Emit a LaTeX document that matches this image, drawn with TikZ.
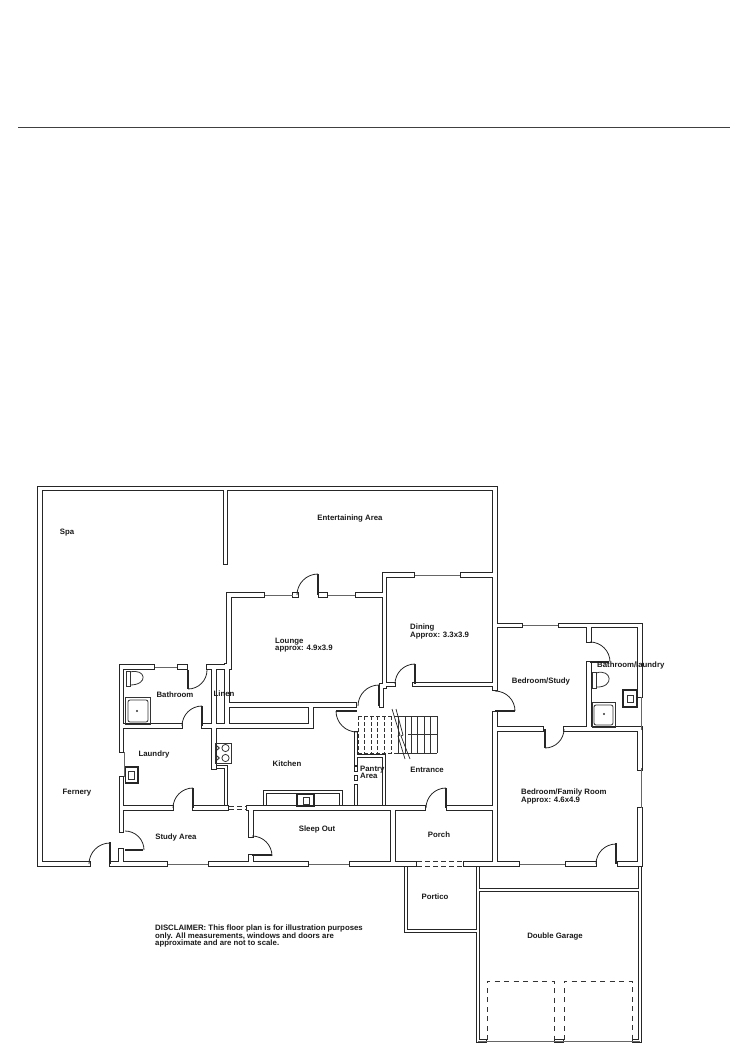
\documentclass[tikz,border=0pt]{standalone}
\usepackage{fontspec}
\setmainfont{Liberation Sans}
\newcommand{\wallpath}{
    (88,864) -- (40,864) -- (40,488.5) -- (495,488.5) -- (495,688)
    (495,713.5) -- (495,864)
    (225.5,488.5) -- (225.5,562)
    (262.5,595) -- (229,595) -- (229,666) -- (227,666) -- (227,726)
    (295,595) -- (296,595)
    (321,595) -- (325,595)
    (358,595) -- (384.5,595) -- (384.5,575) -- (412.5,575)
    (462.5,575) -- (495,575)
    (384.5,595) -- (384.5,686) -- (381.5,686) -- (381.5,705)
    (384.5,684.5) -- (393,684.5)
    (415,684.5) -- (495,684.5)
    (229,705) -- (354,705)
    (152,667) -- (121.5,667) -- (121.5,750)
    (121.5,779) -- (121.5,830)
    (180,667) -- (185,667)
    (209,667) -- (229,667)
    (121.5,726) -- (180,726)
    (204,726) -- (311,726) -- (311,707)
    (214,667) -- (214,767)
    (121.5,808) -- (171,808)
    (195,808) -- (226,808)
    (249,808) -- (423.5,808)
    (448.5,808) -- (495,808)
    (251,808) -- (251,835)
    (251,857) -- (251,864)
    (121,851) -- (121,864)
    (112,864) -- (165.5,864)
    (210.5,864) -- (306.5,864)
    (351.5,864) -- (414.5,864)
    (465.5,864) -- (517.5,864)
    (567.5,864) -- (594.5,864)
    (619.5,864) -- (640,864) -- (640,809.5)
    (640,768) -- (640,731.5)
    (393,808) -- (393,864)
    (495,625.5) -- (520.5,625.5)
    (560.5,625.5) -- (640,625.5) -- (640,695)
    (589,625.5) -- (589,640)
    (589,664) -- (589,729)
    (495,729) -- (541,729)
    (566,729) -- (640,729)
}
\newcommand{\thinpath}{
    (406,866) -- (406,931) -- (478,931)
    (478,866) -- (478,1041)
    (478,890) -- (640,890)
    (640,866) -- (640,1041)
    (479,1041) -- (485,1041)
    (556,1041) -- (562,1041)
    (634,1041) -- (639,1041)
    (226,767) -- (226,806)
    (214,767) -- (226,767)
    (356,733) -- (356,764)
    (356,768) -- (356,770)
    (356,777) -- (356,779)
    (356,786) -- (356,806)
    (356,756) -- (384,756) -- (384,806)
    (265,806) -- (265,792) -- (341,792) -- (341,806)
}
\newcommand{\doorswing}[5]{\draw [swing] (#1,#2) ++(#3:#4) arc (#3:#5:#4);}
\newcommand{\roomfont}{\fontsize{7.8}{7.2}\selectfont\bfseries\setlength{\lineskiplimit}{-5pt}}
\tikzset{
    wallout/.style={line width=5.5pt, black!85, line cap=rect, line join=miter},
    wallin/.style={line width=3.3pt, white, line cap=rect, line join=miter},
    thinout/.style={line width=4pt, black!85, line cap=rect, line join=miter},
    thinin/.style={line width=2pt, white, line cap=rect, line join=miter},
    pane/.style={line width=0.9pt, black!60},
    leaf/.style={line width=1.5pt, black!85},
    swing/.style={line width=0.8pt, black!85},
    fixture/.style={line width=0.8pt, black!80},
    opening/.style={line width=1pt, black!80, dash pattern=on 5pt off 3pt},
    bay/.style={line width=0.9pt, black!80, dash pattern=on 5pt off 4.5pt},
    room/.style={font=\roomfont, inner sep=0pt, align=left, black!90}
}
\begin{document}
\begin{tikzpicture}[x=1pt, y=-1pt]
    \useasboundingbox (0,0) rectangle (750,1059);
    \draw [line width=1pt, black!75] (18,127.5) -- (730,127.5);

    \draw [thinout] \thinpath;
    \draw [thinin] \thinpath;
    \draw [wallout] \wallpath;
    \draw [wallin] \wallpath;

    \draw [pane] (265,595) -- (293,595);
    \draw [pane] (328,595) -- (355,595);
    \draw [pane] (415,575) -- (460,575);
    \draw [pane] (154.5,667) -- (177,667);
    \draw [pane] (124,752) -- (124,777);
    \draw [pane] (168,864) -- (208,864);
    \draw [pane] (309,864) -- (349,864);
    \draw [pane] (520,864) -- (565,864);
    \draw [pane] (523,625.5) -- (558,625.5);
    \draw [pane] (641.5,697) -- (641.5,730);
    \draw [pane] (641.5,768) -- (641.5,808);
    \draw [pane] (478,1041) -- (640,1041);

    \draw [leaf] (318,574) -- (318,595);
    \draw [leaf] (379,685) -- (379,706);
    \draw [leaf] (415,664) -- (415,684);
    \draw [leaf] (188,670) -- (188,689);
    \draw [leaf] (202,706) -- (202,726);
    \draw [leaf] (193,788) -- (193,808);
    \draw [leaf] (446,788) -- (446,808);
    \draw [leaf] (110,842) -- (110,864);
    \draw [leaf] (125,850) -- (143,850);
    \draw [leaf] (252,855) -- (272,855);
    \draw [leaf] (336,711) -- (357,711);
    \draw [leaf] (495,711) -- (515,711);
    \draw [leaf] (545,729) -- (545,748);
    \draw [leaf] (590,662) -- (609,662);
    \draw [leaf] (616,843) -- (616,864);

    \doorswing{110}{864}{270}{21}{180}
    \doorswing{125}{850}{270}{19}{360}
    \doorswing{193}{808}{270}{20}{180}
    \doorswing{202}{726}{270}{20}{180}
    \doorswing{188}{670}{90}{19}{0}
    \doorswing{318}{595}{270}{21}{180}
    \doorswing{379}{706}{270}{21}{180}
    \doorswing{415}{684}{270}{20}{180}
    \doorswing{357}{711}{180}{21}{90}
    \doorswing{446}{808}{270}{20}{180}
    \doorswing{252}{856}{270}{20}{360}
    \doorswing{495}{711}{270}{20}{360}
    \doorswing{545}{729}{90}{19}{0}
    \doorswing{590}{662}{270}{20}{360}
    \doorswing{616}{864}{270}{20}{180}

    \draw [opening] (229,806.5) -- (247,806.5);
    \draw [opening] (229,809.5) -- (247,809.5);
    \draw [opening] (417,861.5) -- (463,861.5);
    \draw [opening] (417,866.5) -- (463,866.5);

    \draw [bay] (487,1040) -- (487,981) -- (554,981) -- (554,1040);
    \draw [bay] (564,1040) -- (564,981) -- (632,981) -- (632,1040);

    \foreach \x in {358,364.5,371,377.5,384,391}
        \draw [line width=0.8pt, black!80, dash pattern=on 3.5pt off 2.5pt] (\x,716) -- (\x,753);
    \foreach \x in {398,405,411,417,424,430,437}
        \draw [line width=0.7pt, black!80] (\x,716) -- (\x,753);
    \draw [line width=0.8pt, black!80, dash pattern=on 3.5pt off 2.5pt] (358,716) -- (398,716);
    \draw [line width=0.8pt, black!80, dash pattern=on 3.5pt off 2.5pt] (358,753) -- (398,753);
    \draw [line width=0.7pt, black!80] (398,716) -- (437,716);
    \draw [line width=0.7pt, black!80] (398,753) -- (437,753);
    \draw [line width=0.6pt, black!80] (408,734) -- (437,734);
    \draw [line width=0.7pt, black!85] (392,709) -- (400,735) -- (398,736) -- (405,759);
    \draw [line width=0.7pt, black!85] (396,709) -- (403,735) -- (401,736) -- (410,759);

    \draw [fixture] (126,671) rectangle (130,686);
    \draw [fixture] (130,672) .. controls (146,668) and (149,685) .. (130,685);
    \draw [fixture] (125,697) rectangle (150,724);
    \draw [fixture, rounded corners=2pt] (128,700) rectangle (148,722);
    \fill [black!80] (137,711) circle (1.2);
    \draw [line width=1.2pt, black!85] (125.5,767) rectangle (138,783);
    \draw [fixture] (128,771) rectangle (134,779);

    \draw [fixture] (215,743) rectangle (231,763);
    \foreach \y in {748,758} {
        \draw [fixture] (225.5,\y) circle (3.6);
        \draw [fixture] (217.5,\y) circle (1.8);
    }
    \draw [line width=1.2pt, black!85] (297,794) rectangle (314,806);
    \draw [fixture] (303,797) rectangle (309,804);

    \draw [fixture] (592,672) rectangle (596,688);
    \draw [fixture] (596,673) .. controls (612,668) and (615,688) .. (596,687);
    \draw [fixture] (592,702) rectangle (615,727);
    \draw [fixture, rounded corners=2pt] (594,705) rectangle (613,725);
    \fill [black!80] (604,714) circle (1.2);
    \draw [line width=1.2pt, black!85] (623,690) rectangle (637,707);
    \draw [fixture] (627,695) rectangle (633,702);

    \node [room] (spa) at (67,533) {Spa};
    \node [room] (entertaining) at (350,518) {Entertaining Area};
    \node [room, anchor=west] (lounge) at (275,645) {Lounge\\approx: 4.9x3.9};
    \node [room, anchor=west] (dining) at (410,631.5) {Dining\\Approx: 3.3x3.9};
    \node [room] (study) at (541,681) {Bedroom/Study};
    \node [room, anchor=west] (bathlaundry) at (597,665.5) {Bathroom/laundry};
    \node [room, anchor=west] (family) at (521,796.5) {Bedroom/Family Room\\Approx: 4.6x4.9};
    \node [room] (linen) at (224,694) {Linen};
    \node [room] (bathroom) at (175,695) {Bathroom};
    \node [room] (laundry) at (154,754) {Laundry};
    \node [room] (studyarea) at (176,837) {Study Area};
    \node [room] (kitchen) at (287,764) {Kitchen};
    \node [room] (sleepout) at (317,829) {Sleep Out};
    \node [room, anchor=west] (pantry) at (360,772.5) {Pantry\\Area};
    \node [room] (entrance) at (427,770) {Entrance};
    \node [room] (porch) at (439,835) {Porch};
    \node [room] (portico) at (435,897) {Portico};
    \node [room] (garage) at (555,936) {Double Garage};
    \node [room] (fernery) at (77,793) {Fernery};
    \node [room, anchor=west] (disclaimer) at (155,936) {DISCLAIMER: This floor plan is for illustration purposes\\only. All measurements, windows and doors are\\approximate and are not to scale.};
\end{tikzpicture}
\end{document}
